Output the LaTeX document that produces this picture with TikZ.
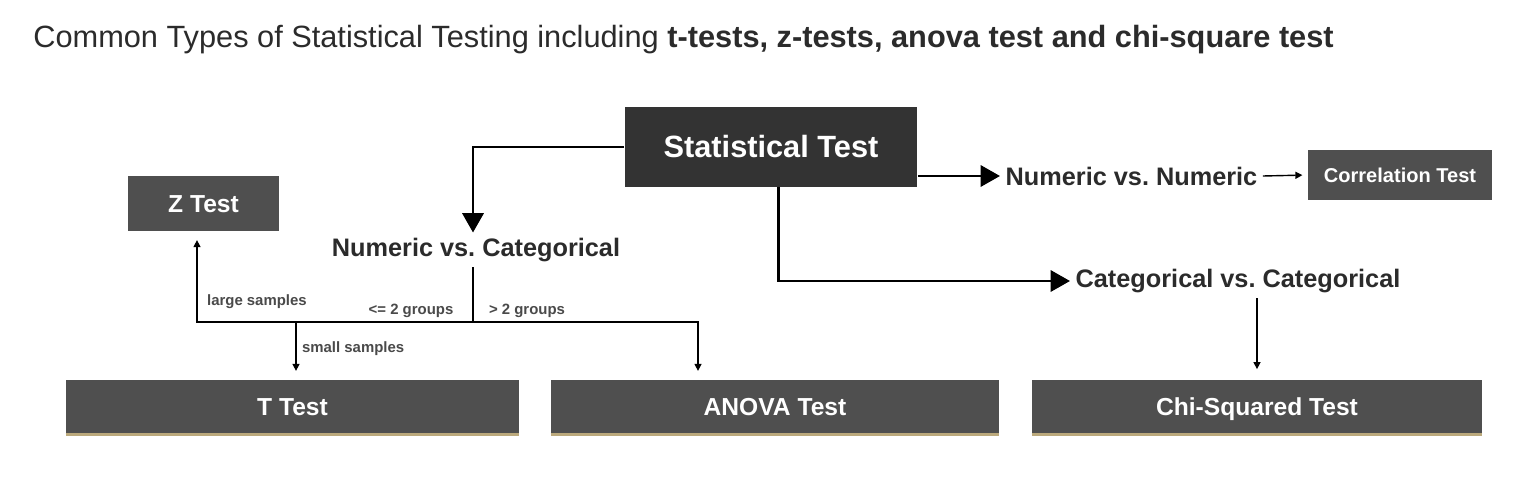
\documentclass[tikz,border=0pt]{standalone}
\usepackage{fontspec}
\setmainfont{Liberation Sans}
\usetikzlibrary{positioning,arrows.meta}
\definecolor{charcoal}{HTML}{333333}
\definecolor{graphite}{HTML}{4F4F4F}
\definecolor{ink}{HTML}{2B2B2B}
\definecolor{labelgray}{HTML}{4A4A4A}
\definecolor{sand}{HTML}{BBA97C}
\frenchspacing

\begin{document}
\begin{tikzpicture}[
  x=0.02cm, y=-0.02cm,
  box/.style={rectangle, fill=graphite, text=white, inner sep=0pt,
    text height=10pt, text depth=0pt,
    font=\bfseries\fontsize{14}{17}\selectfont},
  boxmain/.style={box, fill=charcoal, text height=12.5pt,
    font=\bfseries\fontsize{17.5}{21}\selectfont},
  boxwide/.style={box, minimum height=1.08cm},
  cat/.style={inner sep=3pt, text=ink, font=\bfseries\fontsize{14.4}{17}\selectfont},
  tag/.style={inner sep=1pt, text=labelgray, font=\bfseries\fontsize{8.5}{10}\selectfont},
  bigarrow/.style={line width=1.7pt, draw=black, -{Triangle[length=11pt,width=12pt]}},
  flow/.style={line width=0.8pt, draw=black},
  smallarrow/.style={flow, -{Triangle[length=4pt,width=4pt]}},
  sandline/.style={line width=0.05cm, draw=sand},
]
\useasboundingbox[fill=white] (0,0) rectangle (1518,480);

\node[anchor=base west, inner sep=0pt, text=ink, font=\fontsize{17.5}{20}\selectfont] (title) at (33,47)
  {Common Types of Statistical Testing including \textbf{t-tests, z-tests, anova test and chi-square test}};

\node[boxmain, minimum width=5.86cm, minimum height=1.6cm] (stat) at (771,147) {Statistical Test};
\node[box, minimum width=3.02cm, minimum height=1.1cm] (ztest) at (203.5,203.5) {Z Test};
\node[box, minimum width=3.68cm, minimum height=1.0cm, text height=8.2pt,
  font=\bfseries\fontsize{11.4}{14}\selectfont] (corr) at (1400,175) {Correlation Test};

\node[cat, anchor=west] (numnum) at (1000,176) {Numeric vs. Numeric};
\node[cat] (numcat) at (476,250) {Numeric vs. Categorical};
\node[cat, anchor=west] (catcat) at (1070,281) {Categorical vs. Categorical};

\node[boxwide, minimum width=9.06cm] (ttest) at (292.5,407) {T Test};
\node[boxwide, minimum width=8.96cm] (anova) at (775,407) {ANOVA Test};
\node[boxwide, minimum width=9.0cm] (chi) at (1257,407) {Chi-Squared Test};
\foreach \b in {ttest,anova,chi}
  \draw[sandline] (\b.south west) -- (\b.south east);

\coordinate (split) at (473,322);
\coordinate (zturn) at (197,322);
\coordinate (tdrop) at (296,322);
\coordinate (adrop) at (698,322);

\node[tag, anchor=west] (large) at (205,302) {large samples};
\node[tag] (fewgroups) at (411,311) {<= 2 groups};
\node[tag] (manygroups) at (527,311) {> 2 groups};
\node[tag, anchor=west] (small) at (300,349) {small samples};

\draw[bigarrow] (stat.west) -| (split |- numcat.north);
\draw[bigarrow] (stat.east |- numnum.west) -- (numnum.west);
\draw[bigarrow] ([xshift=0.14cm]stat.south) |- (catcat.west);
\draw[smallarrow, shorten >=3pt] (numnum.east) -- (corr.west);
\draw[smallarrow, shorten >=6pt] (catcat.south -| chi.north) -- (chi.north);
\draw[flow] (split |- numcat.south) -- (split);
\draw[smallarrow, shorten >=5pt] (split) -- (zturn) -- (zturn |- ztest.south);
\draw[smallarrow, shorten >=5pt] (split) -| (adrop |- anova.north);
\draw[smallarrow, shorten >=5pt] (tdrop) -- (tdrop |- ttest.north);
\end{tikzpicture}
\end{document}
